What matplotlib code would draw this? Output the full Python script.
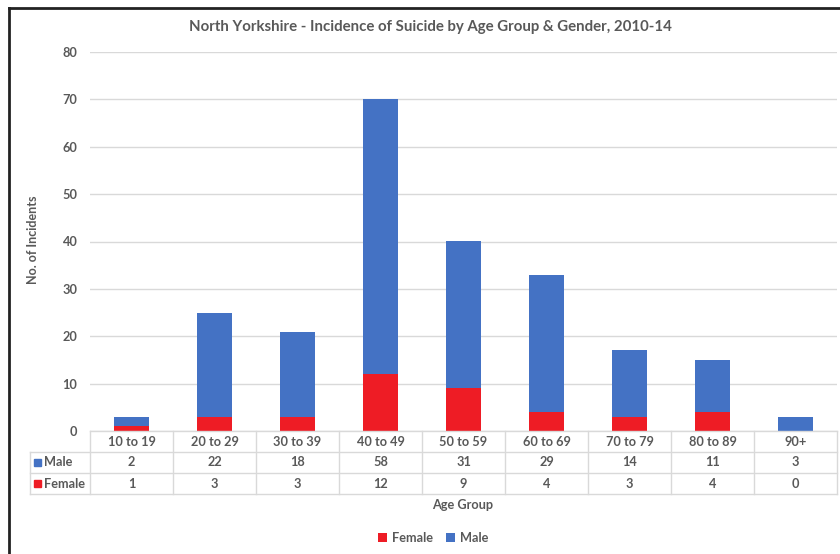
import matplotlib
matplotlib.use("Agg")
import matplotlib.pyplot as plt
from matplotlib.patches import Rectangle
from matplotlib.lines import Line2D

plt.rcParams['font.family'] = ['Lato', 'DejaVu Sans']

age_groups = ["10 to 19", "20 to 29", "30 to 39", "40 to 49", "50 to 59",
              "60 to 69", "70 to 79", "80 to 89", "90+"]
male = [2, 22, 18, 58, 31, 29, 14, 11, 3]
female = [1, 3, 3, 12, 9, 4, 3, 4, 0]
y_ticks = [0, 10, 20, 30, 40, 50, 60, 70, 80]

BLUE = "#4472C4"
RED = "#EE1C25"
TEXT = "#595959"
GRID = "#D9D9D9"

W, H = 840, 554
fig = plt.figure(figsize=(W / 100, H / 100), dpi=100)

# plot area in pixel coordinates
px_left, px_right, px_top, px_bottom = 90, 837, 52, 431
ax = fig.add_axes([px_left / W, 1 - px_bottom / H,
                   (px_right - px_left) / W, (px_bottom - px_top) / H])

n = len(age_groups)
x = list(range(n))
ax.bar(x, female, width=0.41, color=RED, zorder=3, label="Female")
ax.bar(x, male, width=0.41, bottom=female, color=BLUE, zorder=3, label="Male")

ax.set_xlim(-0.5, n - 0.5)
ax.set_ylim(0, 80)
ax.set_yticks(y_ticks)
ax.set_yticklabels([str(v) for v in y_ticks], color=TEXT, fontsize=9.2, fontweight='bold')
ax.tick_params(axis='y', length=0, pad=9)
ax.set_xticks([])
ax.grid(axis='y', color=GRID, linewidth=1, zorder=0)
for s in ax.spines.values():
    s.set_visible(False)

def fy(py):
    return 1 - py / H

def fx(pxv):
    return pxv / W

fig.text(fx(33), fy(240), "No. of Incidents", rotation=90, ha='center', va='center',
         color=TEXT, fontsize=9, fontweight='bold')

# data table below the plot area
cat_w = (px_right - px_left) / n
row_y = [431, 452, 473, 494]
lab_left = 30
line_kw = dict(color=GRID, linewidth=1, transform=fig.transFigure)

fig.add_artist(Line2D([fx(px_left), fx(px_right)], [fy(row_y[0])] * 2, **line_kw))
for yy in row_y[1:]:
    fig.add_artist(Line2D([fx(lab_left), fx(px_right)], [fy(yy)] * 2, **line_kw))
for i in range(n + 1):
    xx = px_left + i * cat_w
    fig.add_artist(Line2D([fx(xx)] * 2, [fy(row_y[0]), fy(row_y[3])], **line_kw))
fig.add_artist(Line2D([fx(lab_left)] * 2, [fy(row_y[1]), fy(row_y[3])], **line_kw))

cell_kw = dict(ha='center', va='center', color=TEXT, fontsize=9.2, fontweight='bold')
for i in range(n):
    cx = fx(px_left + (i + 0.5) * cat_w)
    fig.text(cx, fy((row_y[0] + row_y[1]) / 2), age_groups[i], **cell_kw)
    fig.text(cx, fy((row_y[1] + row_y[2]) / 2), str(male[i]), **cell_kw)
    fig.text(cx, fy((row_y[2] + row_y[3]) / 2), str(female[i]), **cell_kw)

for (label, col, r) in [("Male", BLUE, 1), ("Female", RED, 2)]:
    cy = (row_y[r] + row_y[r + 1]) / 2
    fig.add_artist(Rectangle((fx(34), fy(cy + 3.5)), 7 / W, 7 / H, color=col,
                             transform=fig.transFigure))
    fig.text(fx(44), fy(cy), label, ha='left', va='center', color=TEXT,
             fontsize=9.2, fontweight='bold')

fig.text(fx(463), fy(505), "Age Group", ha='center', va='center', color=TEXT,
         fontsize=9.2, fontweight='bold')

# title
fig.text(fx(430), fy(27), "North Yorkshire - Incidence of Suicide by Age Group & Gender, 2010-14",
         ha='center', va='center', color=TEXT, fontsize=10.8, fontweight='bold')

# legend
handles, labels = ax.get_legend_handles_labels()
leg = fig.legend(handles, labels, loc='center', bbox_to_anchor=(fx(433), fy(538)),
                 ncol=2, frameon=False, handlelength=0.7, handleheight=0.7,
                 handletextpad=0.4, columnspacing=1.0,
                 prop={'size': 9.2, 'weight': 'bold'})
for t in leg.get_texts():
    t.set_color(TEXT)

# outer frame on top and left
fig.add_artist(Line2D([fx(9), fx(840)], [fy(8), fy(8)], color="#222222", linewidth=2,
                      transform=fig.transFigure))
fig.add_artist(Line2D([fx(9), fx(9)], [fy(8), fy(554)], color="#222222", linewidth=2,
                      transform=fig.transFigure))

fig.savefig("out.png", dpi=100)
